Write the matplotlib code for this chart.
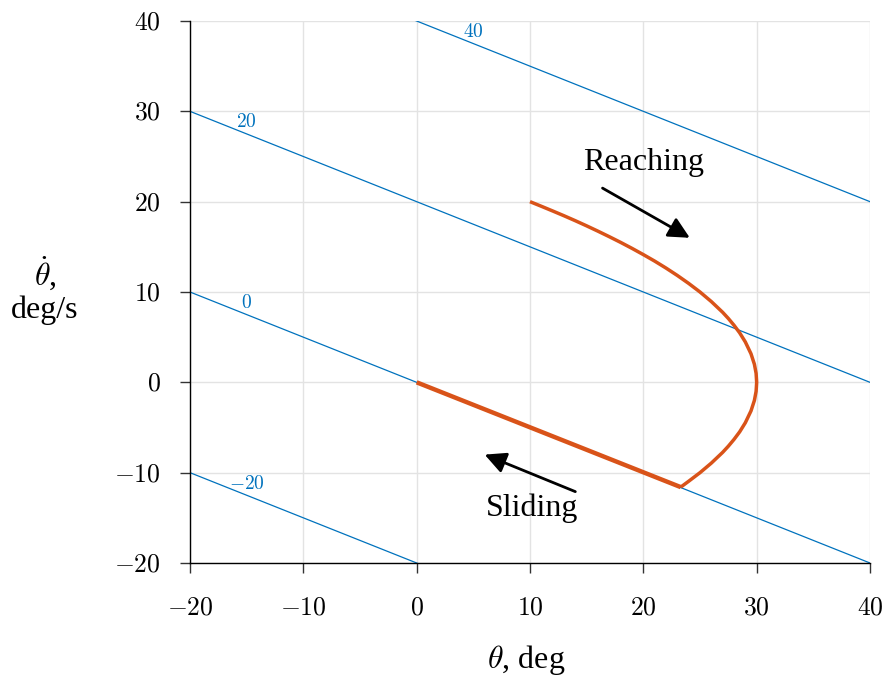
import matplotlib
matplotlib.use("Agg")
import matplotlib.pyplot as plt
import numpy as np
from matplotlib.ticker import FuncFormatter

plt.rcParams['font.family'] = ['Liberation Serif', 'DejaVu Serif']
plt.rcParams['mathtext.fontset'] = 'cm'

# sliding surface lines  s = thetadot + lam*theta
lam = 0.5
s_levels = [-20, 0, 20, 40]
s_label_theta = [-15, -15, -15, 5]

# trajectory, reaching phase
reach_theta = [10, 11, 12, 13, 14, 15, 16, 17, 18, 19, 20, 21, 22, 23, 24, 25, 26,
               27, 27.5, 28, 28.5, 29, 29.5, 29.8, 29.95, 30,
               29.95, 29.8, 29.5, 29, 28.5, 28, 27.5, 27, 26, 25, 24, 23.3]
reach_dtheta = [20, 19.49, 18.97, 18.44, 17.89, 17.32, 16.73, 16.12, 15.49, 14.83, 14.14,
                13.42, 12.65, 11.83, 10.95, 10.0, 8.94, 7.75, 7.07, 6.32, 5.48, 4.47, 3.16,
                2.0, 1.0, 0,
                -1.0, -2.0, -3.16, -4.47, -5.48, -6.32, -7.07, -7.75, -8.94, -10.0, -10.95,
                -11.6]
# sliding phase
slide_theta = [23.3, 0]
slide_dtheta = [-11.6, 0]

blue = '#0072BD'
orange = '#D95319'

fig = plt.figure(figsize=(8.89, 6.81), dpi=100)
ax = fig.add_axes([190/889, 1-563/681, 680/889, 542/681])

ax.set_xlim(-20, 40)
ax.set_ylim(-20, 40)
ax.set_xticks(range(-20, 41, 10))
ax.set_yticks(range(-20, 41, 10))
ax.grid(True, color='#e3e3e3', linewidth=1)
ax.set_axisbelow(True)

fmt = FuncFormatter(lambda v, p: r'$%d$' % v)
ax.xaxis.set_major_formatter(fmt)
ax.yaxis.set_major_formatter(fmt)
ax.tick_params(direction='out', length=7, width=1, color='#333333',
               labelsize=18.5, pad=14)
ax.tick_params(axis='x', pad=18)

for side in ['top', 'right']:
    ax.spines[side].set_visible(False)
for side in ['left', 'bottom']:
    ax.spines[side].set_linewidth(1.0)

# surface lines
th = np.array([-20, 40])
for s, tl in zip(s_levels, s_label_theta):
    ax.plot(th, s - lam * th, color=blue, linewidth=0.9)
    ax.text(tl, s - lam * tl + 1.3, r'$%d$' % s, color=blue, fontsize=14,
            ha='center', va='center')

ax.plot(reach_theta, reach_dtheta, color=orange, linewidth=2.5,
        solid_capstyle='butt', solid_joinstyle='round')
ax.plot(slide_theta, slide_dtheta, color=orange, linewidth=3.2, solid_capstyle='butt')

ax.annotate('', xy=(24.1, 16.0), xytext=(16.4, 21.5),
            arrowprops=dict(arrowstyle='-|>', color='black', lw=2,
                            mutation_scale=32, shrinkA=0, shrinkB=0))
ax.text(20.0, 24.3, 'Reaching', fontsize=23, ha='center', va='center')
ax.annotate('', xy=(6.0, -8.0), xytext=(14.0, -12.1),
            arrowprops=dict(arrowstyle='-|>', color='black', lw=2,
                            mutation_scale=32, shrinkA=0, shrinkB=0))
ax.text(10.2, -13.9, 'Sliding', fontsize=23, ha='center', va='center')

fig.text(526/889, 1-660/681, r'$\theta$, deg', fontsize=23, ha='center', va='center')
fig.text(45/889, 1-290/681, '$\\dot{\\theta}$,\ndeg/s', fontsize=23,
         ha='center', va='center', linespacing=1.1)

fig.savefig('out.png', dpi=100)
